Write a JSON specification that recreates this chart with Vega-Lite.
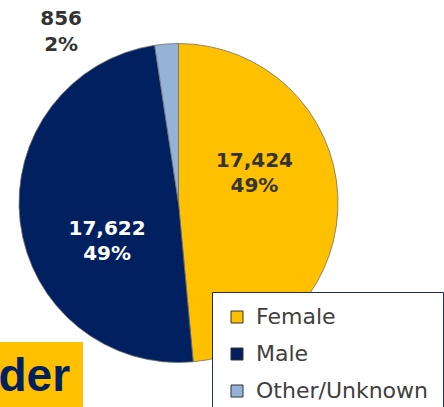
{
  "$schema": "https://vega.github.io/schema/vega-lite/v6.json",
  "width": 357,
  "height": 406,
  "autosize": {"type": "none"},
  "padding": {"left": 0, "top": 0, "right": 87, "bottom": 1},
  "background": "white",
  "config": {"view": {"stroke": null}},
  "data": {"values": [
    {"gender": "Female", "count": 17424, "label": "17,424\n49%"},
    {"gender": "Male", "count": 17622, "label": "17,622\n49%"},
    {"gender": "Other/Unknown", "count": 856, "label": "856\n2%"}
  ]},
  "layer": [
    {
      "mark": {"type": "arc", "outerRadius": 159.5, "stroke": "#6f6f6f", "strokeWidth": 0.8},
      "encoding": {
        "theta": {"field": "count", "type": "quantitative", "stack": true},
        "color": {
          "field": "gender", "type": "nominal",
          "scale": {"domain": ["Female", "Male", "Other/Unknown"], "range": ["#FFC000", "#002060", "#95B3D7"]},
          "legend": {
            "orient": "none", "legendX": 212, "legendY": 292, "title": null,
            "symbolType": "square", "symbolSize": 144, "symbolStrokeColor": "#333333", "symbolStrokeWidth": 1,
            "labelFont": "DejaVu Sans", "labelFontSize": 22, "labelColor": "#404040", "labelOffset": 8,
            "labelLimit": 300, "rowPadding": 15, "padding": 14,
            "fillColor": "white", "strokeColor": "#1F2F6B",
            "encoding": {"legend": {"update": {"strokeWidth": {"value": 2}}}}
          }
        }
      }
    },
    {
      "mark": {"type": "text", "radius": 85, "dx": -9, "dy": -38, "font": "DejaVu Sans", "fontWeight": "bold", "fontSize": 20, "lineBreak": "\n", "lineHeight": 25, "color": "#333333"},
      "encoding": {
        "theta": {"field": "count", "type": "quantitative", "stack": true},
        "detail": {"field": "gender", "type": "nominal"},
        "text": {"condition": {"test": "datum.gender === 'Female'", "field": "label"}, "value": ""}
      }
    },
    {
      "mark": {"type": "text", "radius": 85, "dx": 13, "dy": 16, "font": "DejaVu Sans", "fontWeight": "bold", "fontSize": 20, "lineBreak": "\n", "lineHeight": 25, "color": "#ffffff"},
      "encoding": {
        "theta": {"field": "count", "type": "quantitative", "stack": true},
        "detail": {"field": "gender", "type": "nominal"},
        "text": {"condition": {"test": "datum.gender === 'Male'", "field": "label"}, "value": ""}
      }
    },
    {
      "mark": {"type": "text", "radius": 85, "dx": -111, "dy": -99, "font": "DejaVu Sans", "fontWeight": "bold", "fontSize": 20, "lineBreak": "\n", "lineHeight": 26, "color": "#333333"},
      "encoding": {
        "theta": {"field": "count", "type": "quantitative", "stack": true},
        "detail": {"field": "gender", "type": "nominal"},
        "text": {"condition": {"test": "datum.gender === 'Other/Unknown'", "field": "label"}, "value": ""}
      }
    },
    {
      "data": {"values": [{"t": "Gender"}]},
      "mark": {"type": "point", "opacity": 0},
      "encoding": {
        "shape": {
          "field": "t", "type": "nominal",
          "legend": {
            "orient": "none", "legendX": -149, "legendY": 342, "title": null,
            "symbolSize": 0, "symbolOpacity": 0, "symbolStrokeWidth": 0, "labelOffset": 0,
            "labelFont": "Liberation Sans", "labelFontWeight": "bold", "labelFontSize": 46,
            "labelColor": "#002060", "labelLimit": 400, "padding": 12,
            "fillColor": "#FFC000"
          }
        }
      }
    }
  ]
}
